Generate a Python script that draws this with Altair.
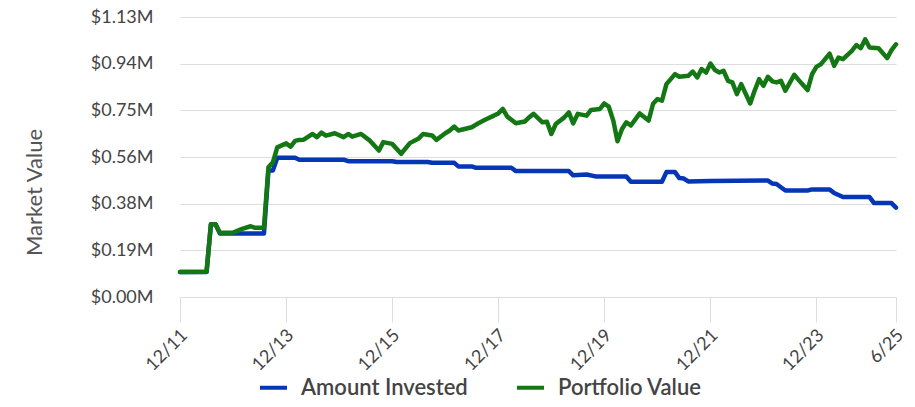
import altair as alt
import pandas as pd

# Amount Invested (values in $ millions)
invested_dates = [
    "2011-12", "2012-06", "2012-07", "2012-08", "2012-09", "2013-07", "2013-08", "2013-09", "2013-10", "2014-02",
    "2014-03", "2015-01", "2015-02", "2015-12", "2016-01", "2016-08", "2016-09", "2017-02", "2017-03", "2017-06",
    "2017-07", "2018-03", "2018-04", "2019-04", "2019-05", "2019-08", "2019-10", "2020-05", "2020-06", "2021-01",
    "2021-02", "2021-04", "2021-05", "2021-06", "2021-07", "2021-12", "2023-01", "2023-02", "2023-03", "2023-05",
    "2023-10", "2023-11", "2024-03", "2024-04", "2024-06", "2024-12", "2025-01", "2025-05", "2025-06",
]
invested_values = [
    0.101, 0.101, 0.294, 0.294, 0.256, 0.256, 0.511, 0.511, 0.562, 0.562,
    0.554, 0.554, 0.548, 0.548, 0.545, 0.545, 0.5415, 0.5415, 0.527, 0.527,
    0.5215, 0.5215, 0.508, 0.508, 0.491, 0.4946, 0.4866, 0.4866, 0.465, 0.465,
    0.504, 0.504, 0.480, 0.478, 0.4665, 0.468, 0.470, 0.458, 0.456, 0.430,
    0.430, 0.4343, 0.4343, 0.4195, 0.4034, 0.4034, 0.379, 0.379, 0.361,
]

# Portfolio Value (values in $ millions)
portfolio_dates = [
    "2011-12", "2012-06", "2012-07", "2012-08", "2012-09", "2012-12", "2013-02", "2013-04", "2013-05", "2013-07",
    "2013-08", "2013-09", "2013-10", "2013-12", "2014-01", "2014-02", "2014-03", "2014-04", "2014-06", "2014-07",
    "2014-08", "2014-09", "2014-11", "2015-01", "2015-02", "2015-03", "2015-05", "2015-07", "2015-09", "2015-10",
    "2015-12", "2016-02", "2016-04", "2016-06", "2016-07", "2016-09", "2016-10", "2016-12", "2017-01", "2017-02",
    "2017-03", "2017-06", "2017-07", "2017-09", "2017-11", "2017-12", "2018-01", "2018-02", "2018-04", "2018-06",
    "2018-07", "2018-08", "2018-10", "2018-11", "2018-12", "2019-01", "2019-03", "2019-04", "2019-05", "2019-06",
    "2019-08", "2019-09", "2019-11", "2019-12", "2020-01", "2020-02", "2020-03", "2020-04", "2020-05", "2020-06",
    "2020-08", "2020-10", "2020-11", "2020-12", "2021-01", "2021-02", "2021-04", "2021-05", "2021-07", "2021-08",
    "2021-09", "2021-10", "2021-11", "2021-12", "2022-01", "2022-02", "2022-03", "2022-04", "2022-05", "2022-06",
    "2022-07", "2022-09", "2022-10", "2022-11", "2022-12", "2023-01", "2023-02", "2023-03", "2023-04", "2023-05",
    "2023-07", "2023-08", "2023-10", "2023-11", "2023-12", "2024-01", "2024-03", "2024-04", "2024-05", "2024-06",
    "2024-08", "2024-09", "2024-10", "2024-11", "2024-12", "2025-02", "2025-04", "2025-05", "2025-06",
]
portfolio_values = [
    0.101, 0.102, 0.294, 0.294, 0.259, 0.260, 0.275, 0.2855, 0.279, 0.279,
    0.524, 0.544, 0.604, 0.620, 0.607, 0.630, 0.634, 0.635, 0.658, 0.645,
    0.6635, 0.651, 0.661, 0.645, 0.658, 0.647, 0.658, 0.631, 0.591, 0.625,
    0.618, 0.578, 0.621, 0.640, 0.658, 0.652, 0.634, 0.661, 0.672, 0.688,
    0.672, 0.685, 0.696, 0.715, 0.732, 0.741, 0.759, 0.728, 0.701, 0.708,
    0.725, 0.739, 0.705, 0.707, 0.658, 0.698, 0.725, 0.745, 0.701, 0.739,
    0.732, 0.755, 0.759, 0.781, 0.768, 0.712, 0.6285, 0.678, 0.705, 0.692,
    0.741, 0.712, 0.780, 0.799, 0.792, 0.859, 0.8995, 0.8887, 0.8927, 0.910,
    0.886, 0.920, 0.906, 0.942, 0.916, 0.906, 0.913, 0.8726, 0.866, 0.819,
    0.859, 0.781, 0.832, 0.879, 0.8525, 0.8887, 0.870, 0.866, 0.8726, 0.8324,
    0.8968, 0.8754, 0.835, 0.8995, 0.929, 0.940, 0.982, 0.933, 0.966, 0.960,
    0.993, 1.017, 1.004, 1.040, 1.007, 1.004, 0.964, 0.996, 1.020,
]

series_names = ["Amount Invested", "Portfolio Value"]
series_colors = ["#0536b5", "#137813"]

x_tick_dates = ["2011-12-01", "2013-12-01", "2015-12-01", "2017-12-01",
                "2019-12-01", "2021-12-01", "2023-12-01", "2025-06-01"]
y_max = 1.13

assert len(invested_dates) == len(invested_values)
assert len(portfolio_dates) == len(portfolio_values)

rows = []
for d, v in zip(invested_dates, invested_values):
    rows.append({"date": d + "-01", "value": v, "series": series_names[0], "order": 0})
for d, v in zip(portfolio_dates, portfolio_values):
    rows.append({"date": d + "-01", "value": v, "series": series_names[1], "order": 1})
df = pd.DataFrame(rows)

x_ticks = [alt.DateTime(year=int(s[:4]), month=int(s[5:7]), date=1, utc=True) for s in x_tick_dates]
# positions of y gridlines: max split in six equal parts
y_grid = [i * y_max / 6 for i in range(7)]

FONT = "Lato"

chart = alt.Chart(df).mark_line(
    strokeWidth=4.5, strokeCap="round", strokeJoin="round"
).encode(
    x=alt.X(
        "date:T",
        scale=alt.Scale(type="utc",
                        domain=[alt.DateTime(year=2011, month=12, date=1, utc=True),
                                alt.DateTime(year=2025, month=6, date=1, utc=True)]),
        axis=alt.Axis(
            title=None, values=x_ticks, labelExpr="utcFormat(datum.value, '%-m/%y')",
            grid=False, domain=False, ticks=True, tickSize=25, tickColor="#dddddd",
            labelAngle=-45, labelFontSize=18, labelColor="#444444", labelFont=FONT,
            labelPadding=4, labelOffset=-2, labelFlush=False, labelOverlap=False,
        ),
    ),
    y=alt.Y(
        "value:Q",
        scale=alt.Scale(domain=[0, y_max], nice=False, zero=True),
        axis=alt.Axis(
            title="Market Value", values=y_grid,
            labelExpr="'$' + format(datum.value, '.2f') + 'M'",
            grid=True, gridColor="#dddddd", domain=False, ticks=False, tickSize=0,
            labelPadding=27, labelFontSize=18, labelColor="#444444", labelFont=FONT,
            titleFont=FONT, titleFontSize=22, titleFontWeight="normal", titleColor="#555555",
            titleAngle=270, titleX=-146, titleY=175, titleAlign="center", titleBaseline="middle",
        ),
    ),
    color=alt.Color(
        "series:N",
        scale=alt.Scale(domain=series_names, range=series_colors),
        legend=alt.Legend(
            title=None, orient="none", direction="horizontal", legendX=78, legendY=355,
            symbolType="stroke", symbolSize=729, symbolStrokeWidth=4,
            labelFont=FONT, labelFontSize=22, labelFontWeight=600, labelColor="#444444",
            labelOffset=12, labelLimit=400, columnPadding=41, padding=0,
        ),
    ),
    order="order:Q",
).properties(
    width=716,
    height=280,
    autosize=alt.AutoSizeParams(type="none"),
    padding={"left": 172, "top": 9, "right": 11, "bottom": 102},
).configure_view(stroke=None)

chart.save("out.html", embed_options={"renderer": "svg", "actions": False})
